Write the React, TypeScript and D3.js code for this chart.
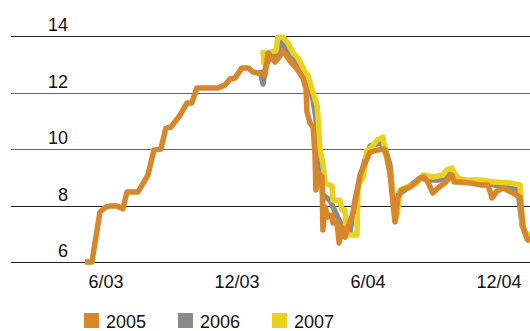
import React from "react";
import * as d3 from "d3";

// x values: months since Jan 2003 (0 = 1/03), y values: rate
const series2005: [number, number][] = [
  [4.08, 6.0], [4.4, 6.0], [4.77, 7.77], [5.05, 7.95], [5.23, 7.98], [5.55, 7.98], [5.82, 7.88],
  [6.01, 8.48], [6.51, 8.48], [6.97, 9.08], [7.24, 9.96], [7.56, 10.0], [7.79, 10.74], [8.02, 10.78],
  [8.44, 11.2], [8.76, 11.63], [8.98, 11.63], [9.21, 12.16], [10.18, 12.16], [10.5, 12.27],
  [10.73, 12.48], [10.95, 12.51], [11.27, 12.87], [11.55, 12.87], [11.78, 12.73], [12.19, 12.65],
  [12.33, 12.62], [12.47, 13.4], [12.65, 13.22], [12.79, 13.08], [12.92, 13.19], [13.15, 13.47],
  [13.47, 13.12], [13.79, 12.83], [14.07, 12.51], [14.21, 12.12], [14.25, 11.31], [14.39, 10.92],
  [14.53, 10.78], [14.62, 9.79], [14.66, 8.55], [14.76, 9.15], [14.94, 9.01], [14.98, 7.13],
  [15.08, 7.95], [15.21, 7.59], [15.4, 7.66], [15.44, 7.38], [15.63, 7.42], [15.72, 6.67],
  [15.85, 7.24], [15.99, 6.88], [16.13, 7.24], [16.36, 7.73], [16.54, 8.44], [16.68, 9.08],
  [16.91, 9.5], [17.14, 9.89], [17.46, 9.96], [17.78, 10.0], [17.92, 9.72], [18.05, 9.19],
  [18.19, 8.09], [18.28, 7.42], [18.42, 8.3], [18.6, 8.55], [18.97, 8.65], [19.43, 8.97],
  [19.61, 9.01], [19.79, 8.83], [20.02, 8.44], [20.25, 8.62], [20.57, 8.8], [20.89, 9.08],
  [20.99, 8.83], [21.26, 8.83], [21.72, 8.8], [22.18, 8.73], [22.54, 8.73], [22.73, 8.27],
  [22.95, 8.51], [23.23, 8.62], [23.69, 8.44], [24.01, 8.3], [24.15, 7.24], [24.33, 6.81],
  [24.47, 6.74],
];

const series2006: [number, number][] = [
  [12.1, 12.8], [12.24, 12.3], [12.37, 12.97], [12.6, 13.29], [12.83, 13.33], [13.06, 13.79],
  [13.24, 13.58], [13.56, 13.22], [13.84, 12.97], [14.11, 12.65], [14.34, 12.27], [14.53, 11.73],
  [14.66, 11.1], [14.76, 9.96], [14.85, 9.33], [14.98, 8.37], [15.31, 8.19], [15.44, 7.95],
  [15.76, 7.42], [15.9, 7.06], [16.22, 7.06], [16.45, 8.19], [16.68, 8.97], [16.91, 9.61],
  [17.14, 10.11], [17.6, 10.21], [17.82, 10.04], [18.05, 9.43], [18.28, 7.66], [18.42, 8.37],
  [18.97, 8.69], [19.43, 8.97], [19.89, 8.9], [20.34, 8.9], [20.89, 9.19], [21.26, 8.9],
  [22.18, 8.8], [22.63, 8.76], [23.09, 8.69], [23.92, 8.55], [24.1, 7.31], [24.33, 6.88],
  [24.47, 6.81],
];

const series2007: [number, number][] = [
  [12.24, 13.5], [12.28, 13.04], [12.56, 13.43], [12.83, 13.47], [12.92, 13.96], [13.15, 13.96],
  [13.38, 13.75], [13.61, 13.4], [13.84, 13.22], [14.07, 12.87], [14.3, 12.58], [14.48, 12.12],
  [14.71, 11.56], [14.76, 11.1], [14.85, 9.96], [14.98, 9.5], [15.08, 8.8], [15.4, 8.69],
  [15.44, 8.19], [15.76, 8.19], [15.85, 7.84], [15.99, 7.84], [16.08, 6.96], [16.54, 6.96],
  [16.59, 8.73], [16.82, 8.97], [17.0, 9.96], [17.23, 10.07], [17.46, 10.32], [17.73, 10.42],
  [17.82, 9.96], [18.05, 9.15], [18.37, 7.59], [18.51, 8.55], [19.29, 8.8], [19.56, 9.08],
  [20.02, 9.01], [20.48, 9.08], [20.66, 9.26], [20.89, 9.33], [21.12, 8.97], [21.58, 8.9],
  [22.18, 8.9], [22.77, 8.83], [23.55, 8.8], [24.01, 8.73], [24.1, 7.38], [24.24, 7.03],
  [24.47, 6.96],
];

const yTicks = [6, 8, 10, 12, 14];
const xTickValues = [5, 11, 17, 23];
const xTickLabels = ["6/03", "12/03", "6/04", "12/04"];
const legendLabels = ["2005", "2006", "2007"];
const colors = ["#D8862A", "#8A8A8A", "#ECD01E"];

const W = 530;
const H = 331;
const FONT = "'Liberation Sans', Arial, Helvetica, sans-serif";

export default function App() {
  const x = d3.scaleLinear().domain([5, 23]).range([105, 498]);
  const y = d3.scaleLinear().domain([6, 14]).range([262, 36]);
  const line = d3
    .line<[number, number]>()
    .x((d) => x(d[0]))
    .y((d) => y(d[1]));

  const drawOrder: { data: [number, number][]; color: string }[] = [
    { data: series2006, color: colors[1] },
    { data: series2007, color: colors[2] },
    { data: series2005, color: colors[0] },
  ];

  return (
    <svg
      width={W}
      height={H}
      style={{ position: "absolute", left: 0, top: 0, background: "#fff" }}
      fontFamily={FONT}
    >
      {yTicks.map((t) => (
        <g key={t}>
          <line
            x1={11}
            x2={W}
            y1={Math.round(y(t)) + 0.5}
            y2={Math.round(y(t)) + 0.5}
            stroke={t === 6 || t === 14 || t === 8 ? "#222" : "#666"}
            strokeWidth={1}
          />
          <text x={68} y={y(t) - 5} textAnchor="end" fontSize={18} fill="#111">
            {t}
          </text>
        </g>
      ))}
      {drawOrder.map((s, i) => (
        <path
          key={i}
          d={line(s.data) || ""}
          fill="none"
          stroke={s.color}
          strokeWidth={5.5}
          strokeLinejoin="round"
          strokeLinecap="butt"
        />
      ))}
      {xTickValues.map((v, i) => (
        <text key={v} x={x(v) + 1} y={288} textAnchor="middle" fontSize={18} fill="#111">
          {xTickLabels[i]}
        </text>
      ))}
      {legendLabels.map((l, i) => (
        <g key={l} transform={`translate(${84 + i * 94},313)`}>
          <rect x={0} y={0} width={15} height={15} fill={colors[i]} />
          <text x={22} y={15} fontSize={18} fill="#111">
            {l}
          </text>
        </g>
      ))}
    </svg>
  );
}
